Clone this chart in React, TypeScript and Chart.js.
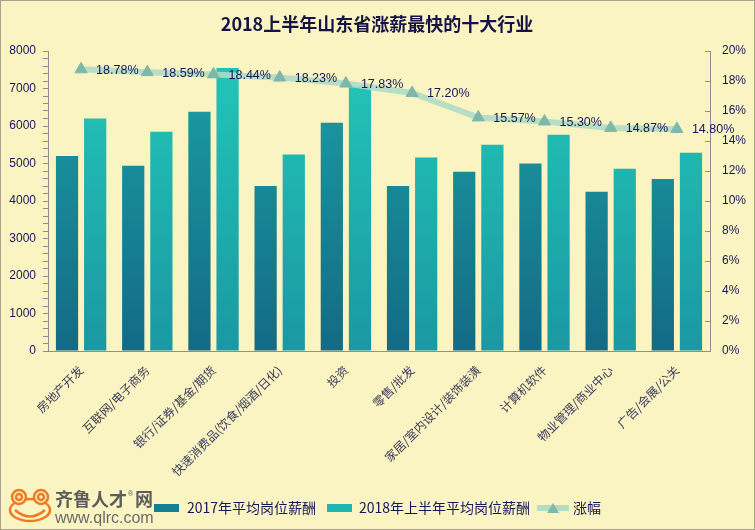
import React, { useEffect, useRef } from 'react';
import { Chart, registerables } from 'chart.js';

Chart.register(...registerables);

const chartTitle = '2018上半年山东省涨薪最快的十大行业';
const categories = [
  '房地产开发',
  '互联网/电子商务',
  '银行/证券/基金/期货',
  '快速消费品(饮食/烟酒/日化)',
  '投资',
  '零售/批发',
  '家居/室内设计/装饰装潢',
  '计算机软件',
  '物业管理/商业中心',
  '广告/会展/公关',
];
const seriesNames = ['2017年平均岗位薪酬', '2018年上半年平均岗位薪酬', '涨幅'];
const salary2017 = [5200, 4940, 6380, 4400, 6090, 4400, 4780, 5000, 4250, 4590];
const salary2018H1 = [6200, 5850, 7550, 5240, 7060, 5160, 5500, 5770, 4860, 5290];
const growthPct = [18.78, 18.59, 18.44, 18.23, 17.83, 17.2, 15.57, 15.3, 14.87, 14.8];
const leftAxisMax = 8000;
const rightAxisMax = 20;

const BG = '#faf3c2';
const AXIS = '#8f8f8f';
const TEXT = '#14185a';

function barGradient(top: string, bottom: string) {
  return (ctx: any) => {
    const chart = ctx.chart;
    const area = chart.chartArea;
    if (!area) return top;
    const g = chart.ctx.createLinearGradient(0, area.top + 40, 0, area.bottom);
    g.addColorStop(0, top);
    g.addColorStop(1, bottom);
    return g;
  };
}

const backgroundPlugin = {
  id: 'bgPlugin',
  beforeDraw(chart: any) {
    const { ctx, width, height } = chart;
    ctx.save();
    ctx.fillStyle = BG;
    ctx.fillRect(0, 0, width, height);
    ctx.strokeStyle = '#a8a38c';
    ctx.lineWidth = 1;
    ctx.strokeRect(0.5, 0.5, width - 1, height - 1);
    ctx.restore();
  },
};

const decorPlugin = {
  id: 'decorPlugin',
  afterDraw(chart: any) {
    const { ctx } = chart;
    ctx.save();
    // title
    ctx.fillStyle = '#161446';
    ctx.font = 'bold 18px "Noto Sans CJK SC", sans-serif';
    ctx.textAlign = 'center';
    ctx.textBaseline = 'middle';
    ctx.fillText(chartTitle, 377, 24);

    // right axis inward tick marks
    const s = chart.scales.y1;
    ctx.strokeStyle = AXIS;
    ctx.lineWidth = 1;
    s.ticks.forEach((t: any) => {
      const y = Math.round(s.getPixelForValue(t.value)) + 0.5;
      ctx.beginPath();
      ctx.moveTo(s.left - 5, y);
      ctx.lineTo(s.left, y);
      ctx.stroke();
    });

    // logo frog
    ctx.strokeStyle = '#f07a22';
    ctx.lineWidth = 2.5;
    ctx.beginPath();
    ctx.ellipse(30, 510, 20, 11, 0, 0, Math.PI * 2);
    ctx.stroke();
    [19, 41].forEach((ex) => {
      ctx.beginPath();
      ctx.fillStyle = BG;
      ctx.arc(ex, 497, 7, 0, Math.PI * 2);
      ctx.fill();
      ctx.stroke();
      ctx.beginPath();
      ctx.arc(ex, 497, 3, 0, Math.PI * 2);
      ctx.stroke();
    });
    ctx.beginPath();
    ctx.moveTo(15, 510);
    ctx.quadraticCurveTo(30, 523, 45, 510);
    ctx.stroke();

    ctx.textAlign = 'left';
    ctx.textBaseline = 'alphabetic';
    ctx.fillStyle = '#5c5c5c';
    ctx.font = 'bold 18px "Noto Sans CJK SC", sans-serif';
    ctx.fillText('齐鲁人才', 55, 506);
    ctx.font = '7px "Liberation Sans", sans-serif';
    ctx.fillText('®', 128, 496);
    ctx.font = 'bold 18px "Noto Sans CJK SC", sans-serif';
    ctx.fillText('网', 135, 506);
    ctx.fillStyle = '#6a6a6a';
    ctx.font = '16px "Liberation Sans", sans-serif';
    ctx.fillText('www.qlrc.com', 55, 523);
    ctx.restore();
  },
  afterDatasetsDraw(chart: any) {
    const { ctx } = chart;
    const meta = chart.getDatasetMeta(2);
    ctx.save();
    ctx.fillStyle = TEXT;
    ctx.font = '12.5px "Liberation Sans", sans-serif';
    ctx.textAlign = 'left';
    ctx.textBaseline = 'middle';
    meta.data.forEach((pt: any, i: number) => {
      ctx.fillText(growthPct[i].toFixed(2) + '%', pt.x + 15, pt.y + 1);
    });
    ctx.restore();
  },
};

function makeRectIcon(color: string) {
  const c = document.createElement('canvas');
  c.width = 25;
  c.height = 8;
  const x = c.getContext('2d')!;
  x.fillStyle = color;
  x.fillRect(0, 0, 25, 8);
  return c;
}

function makeLineIcon() {
  const c = document.createElement('canvas');
  c.width = 32;
  c.height = 12;
  const x = c.getContext('2d')!;
  x.strokeStyle = 'rgba(176,220,196,0.95)';
  x.lineWidth = 6;
  x.beginPath();
  x.moveTo(0, 6);
  x.lineTo(32, 6);
  x.stroke();
  x.fillStyle = '#7fb8aa';
  x.beginPath();
  x.moveTo(16, 1);
  x.lineTo(22, 11);
  x.lineTo(10, 11);
  x.closePath();
  x.fill();
  return c;
}

export default function App() {
  const canvasRef = useRef<HTMLCanvasElement | null>(null);

  useEffect(() => {
    document.body.style.margin = '0';
    const canvas = canvasRef.current;
    if (!canvas) return;
    const icons = [makeRectIcon('#15808f'), makeRectIcon('#1fb6b0'), makeLineIcon()];

    const chart = new Chart(canvas, {
      data: {
        labels: categories,
        datasets: [
          {
            type: 'bar',
            label: seriesNames[0],
            data: salary2017,
            yAxisID: 'y',
            order: 1,
            backgroundColor: barGradient('#1a9aa2', '#136a84'),
            borderWidth: 0,
            barPercentage: 0.79,
            categoryPercentage: 0.85,
          },
          {
            type: 'bar',
            label: seriesNames[1],
            data: salary2018H1,
            yAxisID: 'y',
            order: 2,
            backgroundColor: barGradient('#22c1b5', '#1a98a3'),
            borderWidth: 0,
            barPercentage: 0.79,
            categoryPercentage: 0.85,
          },
          {
            type: 'line',
            label: seriesNames[2],
            data: growthPct,
            yAxisID: 'y1',
            order: 0,
            borderColor: 'rgba(176,220,196,0.9)',
            borderWidth: 6,
            tension: 0,
            pointStyle: 'triangle',
            pointRadius: 7,
            pointBackgroundColor: '#7fb8aa',
            pointBorderColor: '#7fb8aa',
            pointBorderWidth: 1,
          },
        ] as any,
      },
      options: {
        responsive: false,
        animation: false,
        layout: { padding: { top: 51, left: 0, right: 0, bottom: 5 } },
        plugins: {
          title: { display: false },
          tooltip: { enabled: false },
          legend: {
            position: 'bottom',
            align: 'center',
            labels: {
              usePointStyle: true,
              pointStyleWidth: 26,
              boxWidth: 25,
              boxHeight: 9,
              padding: 10,
              color: TEXT,
              font: { size: 14, family: '"Noto Sans CJK SC", sans-serif' },
              generateLabels: (ch: any) =>
                ch.data.datasets.map((ds: any, i: number) => ({
                  text: ds.label,
                  pointStyle: icons[i],
                  datasetIndex: i,
                  hidden: false,
                  fontColor: TEXT,
                  lineWidth: 0,
                  strokeStyle: 'rgba(0,0,0,0)',
                  fillStyle: 'rgba(0,0,0,0)',
                })),
            },
          },
        },
        scales: {
          x: {
            offset: true,
            grid: { display: true, drawOnChartArea: false, drawTicks: false },
            border: { display: true, color: AXIS },
            ticks: {
              autoSkip: false,
              maxRotation: 45,
              minRotation: 45,
              padding: 12,
              color: '#3c3c5c',
              font: { size: 12, family: '"Noto Sans CJK SC", serif' },
            },
            afterFit: (s: any) => {
              s.height = 140;
            },
          },
          y: {
            position: 'left',
            min: 0,
            max: leftAxisMax,
            grid: { drawOnChartArea: false, tickLength: 5, color: AXIS },
            border: { display: true, color: AXIS },
            ticks: {
              stepSize: 200,
              autoSkip: false,
              padding: 7,
              color: TEXT,
              font: { size: 12, family: '"Liberation Sans", sans-serif' },
              callback: (v: any) => (Number(v) % 1000 === 0 ? String(v) : ''),
            },
            afterFit: (s: any) => {
              s.width = 48;
            },
          },
          y1: {
            position: 'right',
            min: 0,
            max: rightAxisMax,
            grid: { drawOnChartArea: false, drawTicks: false },
            border: { display: true, color: AXIS },
            ticks: {
              stepSize: 2,
              padding: 12,
              color: TEXT,
              font: { size: 12, family: '"Liberation Sans", sans-serif' },
              callback: (v: any) => v + '%',
            },
            afterFit: (s: any) => {
              s.width = 45;
            },
          },
        },
      } as any,
      plugins: [backgroundPlugin, decorPlugin],
    });
    return () => chart.destroy();
  }, []);

  return (
    <div style={{ width: 755, height: 530 }}>
      <canvas ref={canvasRef} width={755} height={530} style={{ display: 'block' }} />
    </div>
  );
}
